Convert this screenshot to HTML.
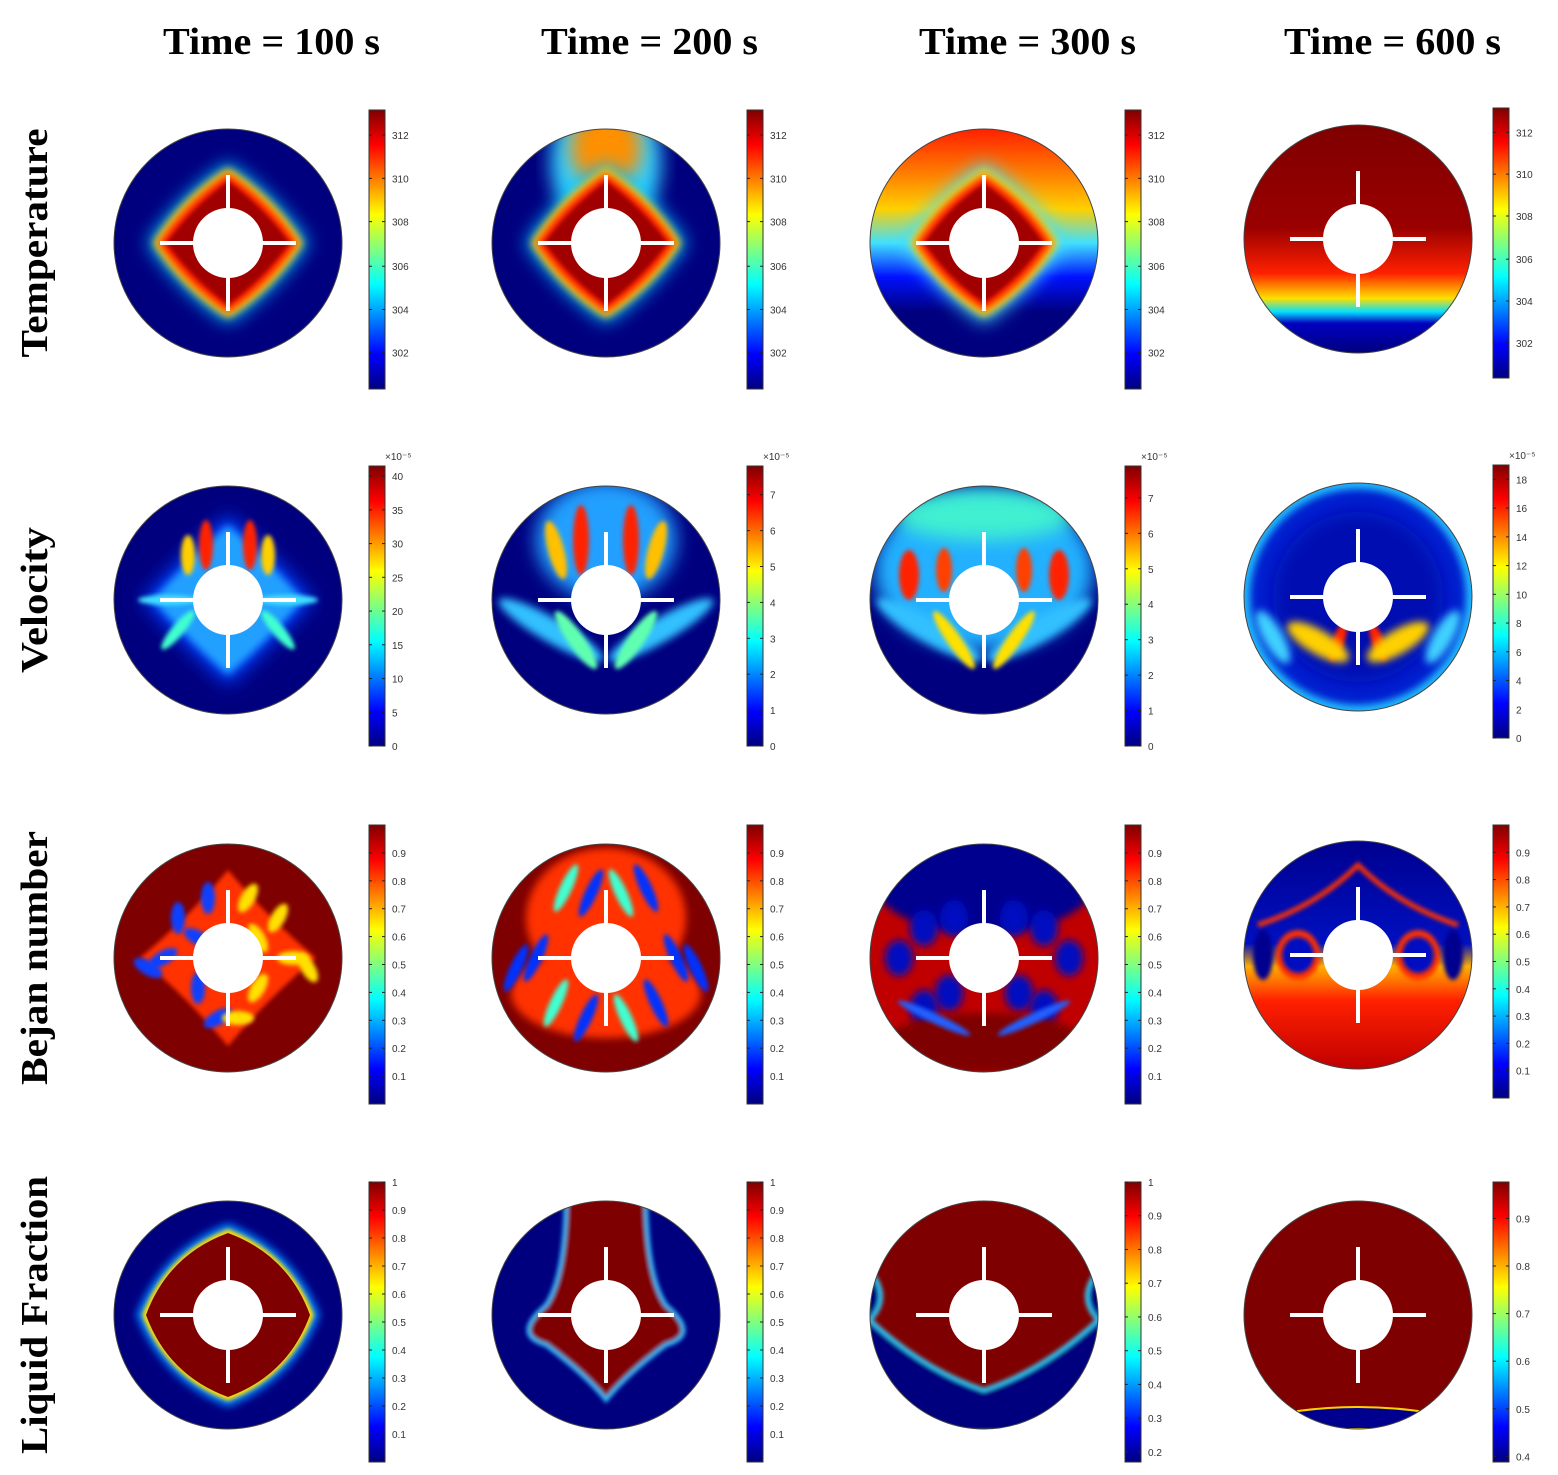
<!DOCTYPE html>
<html><head><meta charset="utf-8">
<style>
html,body{margin:0;padding:0;background:#fff;}
svg{display:block}
.t{font-family:"Liberation Serif",serif;font-weight:bold;font-size:38px;fill:#000}
.k{font-family:"Liberation Sans",sans-serif;font-size:10px;fill:#333}
</style></head>
<body>
<svg id="s" width="1558" height="1475" viewBox="0 0 1558 1475" xmlns="http://www.w3.org/2000/svg">
<defs>
<linearGradient id="jet" x1="0" y1="1" x2="0" y2="0">
<stop offset="0" stop-color="#00007f"/><stop offset="0.125" stop-color="#0000ff"/>
<stop offset="0.375" stop-color="#00ffff"/><stop offset="0.625" stop-color="#ffff00"/>
<stop offset="0.875" stop-color="#ff0000"/><stop offset="1" stop-color="#7f0000"/>
</linearGradient>
<linearGradient id="t4" x1="0" y1="0" x2="0" y2="1">
<stop offset="0" stop-color="#7f0000"/><stop offset="0.45" stop-color="#9a0000"/>
<stop offset="0.65" stop-color="#ff2000"/><stop offset="0.76" stop-color="#ffe000"/>
<stop offset="0.82" stop-color="#00e0ff"/><stop offset="0.87" stop-color="#0000c0"/><stop offset="1" stop-color="#00007f"/>
</linearGradient>
<linearGradient id="t3" x1="0" y1="0" x2="0" y2="1">
<stop offset="0" stop-color="#ff2000"/><stop offset="0.2" stop-color="#ff8000"/>
<stop offset="0.35" stop-color="#ffd000"/><stop offset="0.5" stop-color="#40e0ff"/><stop offset="0.65" stop-color="#0010ff"/><stop offset="0.8" stop-color="#00007f"/>
</linearGradient>
<linearGradient id="b4" x1="0" y1="0" x2="0" y2="1">
<stop offset="0" stop-color="#00008f"/><stop offset="0.45" stop-color="#0010c0"/>
<stop offset="0.55" stop-color="#ffb000"/><stop offset="0.7" stop-color="#ff2000"/><stop offset="1" stop-color="#c00000"/>
</linearGradient>
<filter id="bl" x="-30%" y="-30%" width="160%" height="160%"><feGaussianBlur stdDeviation="9"/></filter>
<filter id="bs" x="-30%" y="-30%" width="160%" height="160%"><feGaussianBlur stdDeviation="4"/></filter>
<filter id="bx" x="-30%" y="-30%" width="160%" height="160%"><feGaussianBlur stdDeviation="2"/></filter>
</defs>
<g id="g"></g>
</svg>
<script>
var cols=[228,606,984,1358], rows=[243,600,958,1315], R=114;
var cbx=[369,747,1125,1493];
var out='';
function T(x,y,s,c,extra){out+='<text x="'+x+'" y="'+y+'" class="'+c+'" '+(extra||'')+'>'+s+'</text>';}
var titles=['Time = 100 s','Time = 200 s','Time = 300 s','Time = 600 s'];
var tx=[163,541,919,1284];
for(var i=0;i<4;i++)T(tx[i],54,titles[i],'t','textLength="217" lengthAdjust="spacingAndGlyphs"');
var rl=['Temperature','Velocity','Bejan number','Liquid Fraction'];
var rlen=[229,146,254,278];
var rc=[243,600,958,1315];
for(var j=0;j<4;j++){var yc=rc[j]+(j==3?0:0);T(47,yc,rl[j],'t','text-anchor="middle" textLength="'+rlen[j]+'" lengthAdjust="spacingAndGlyphs" transform="rotate(-90 47 '+yc+')"');}
var ticks=[
 [['312',0.91],['310',0.755],['308',0.6],['306',0.44],['304',0.285],['302',0.13]],
 null,
 [['0.9',0.9],['0.8',0.8],['0.7',0.7],['0.6',0.6],['0.5',0.5],['0.4',0.4],['0.3',0.3],['0.2',0.2],['0.1',0.1]],
 [['1',1],['0.9',0.9],['0.8',0.8],['0.7',0.7],['0.6',0.6],['0.5',0.5],['0.4',0.4],['0.3',0.3],['0.2',0.2],['0.1',0.1]]
];
var vt=[[0,5,10,15,20,25,30,35,40],[0,1,2,3,4,5,6,7],[0,1,2,3,4,5,6,7],[0,2,4,6,8,10,12,14,16,18]];
var vmax=[41.5,7.8,7.9,19];
var cby=[[110,389],[466,746],[825,1104],[1182,1462]];
for(var j=0;j<4;j++)for(var i=0;i<4;i++){
 var x=cbx[i],y0=cby[j][0],y1=cby[j][1];
 if(i==3&&j==0){y0=108;y1=378;}
 if(i==3&&j==1){y0=465;y1=738;}
 if(i==3&&j==2){y0=825;y1=1098;}
 var h=y1-y0;
 out+='<rect x="'+x+'" y="'+y0+'" width="16" height="'+h+'" fill="url(#jet)" stroke="#333" stroke-width="1"/>';
 var tk=[];
 if(j==1){vt[i].forEach(function(v){tk.push([''+v,v/vmax[i]]);});T(x+16,y0-6,'×10⁻⁵','k','font-size="8"');}
 else if(j==3&&i==3){tk=[['0.9',0.87],['0.8',0.7],['0.7',0.53],['0.6',0.36],['0.5',0.19],['0.4',0.02]];}
 else if(j==3&&i==2){tk=[];for(var v=1;v>=0.15;v-=0.1){var lab=(Math.round(v*10)/10);tk.push([lab==1?'1':lab.toFixed(1),(v-0.17)/0.83]);}}
 else tk=ticks[j];
 tk.forEach(function(t){var yy=y1-t[1]*h;
  out+='<line x1="'+x+'" x2="'+(x+3)+'" y1="'+yy+'" y2="'+yy+'" stroke="#222"/><line x1="'+(x+13)+'" x2="'+(x+16)+'" y1="'+yy+'" y2="'+yy+'" stroke="#222"/>';
  T(x+23,yy+4,t[0],'k');});
}
function star(cx,cy,a,b){
 return 'M'+(cx)+','+(cy-a)+' Q'+(cx+b)+','+(cy-b)+' '+(cx+a)+','+cy+' Q'+(cx+b)+','+(cy+b)+' '+cx+','+(cy+a)+' Q'+(cx-b)+','+(cy+b)+' '+(cx-a)+','+cy+' Q'+(cx-b)+','+(cy-b)+' '+cx+','+(cy-a)+'Z';
}
var cid=0;
function panel(cx,cy,content){
 cid++;
 out+='<clipPath id="c'+cid+'"><circle cx="'+cx+'" cy="'+cy+'" r="'+R+'"/></clipPath>';
 out+='<g clip-path="url(#c'+cid+')">'+content+'</g>';
 out+='<circle cx="'+cx+'" cy="'+cy+'" r="'+R+'" fill="none" stroke="#444" stroke-width="1"/>';
 out+='<circle cx="'+cx+'" cy="'+cy+'" r="35" fill="#fff"/>';
 out+='<rect x="'+(cx-68)+'" y="'+(cy-2)+'" width="136" height="4" fill="#fff"/><rect x="'+(cx-2)+'" y="'+(cy-68)+'" width="4" height="136" fill="#fff"/>';
}
function bg(cx,cy,c){return '<rect x="'+(cx-R)+'" y="'+(cy-R)+'" width="'+2*R+'" height="'+2*R+'" fill="'+c+'"/>';}
function E(cx,cy,rx,ry,c,f,rot){return '<ellipse cx="'+cx+'" cy="'+cy+'" rx="'+rx+'" ry="'+ry+'" fill="'+c+'"'+(f?' filter="url(#'+f+')"':'')+(rot?' transform="rotate('+rot+' '+cx+' '+cy+')"':'')+'/>';}
function P(d,c,f){return '<path d="'+d+'" fill="'+c+'"'+(f?' filter="url(#'+f+')"':'')+'/>';}
(function(){var cx=cols[0],cy=rows[0];
 panel(cx,cy,bg(cx,cy,'#00007f')+P(star(cx,cy,80,48),'#00c0ff','bl')+P(star(cx,cy,75,46),'#ffe000','bs')+P(star(cx,cy,70,42),'#ff2000','bs')+P(star(cx,cy,62,36),'#a00000','bx'));
 cx=cols[1];cy=rows[0];
 panel(cx,cy,bg(cx,cy,'#00007f')+E(cx-30,cy-80,25,50,'#30d0ff','bl')+E(cx+30,cy-80,25,50,'#30d0ff','bl')+E(cx,cy-95,35,40,'#ff9000','bl')+P(star(cx,cy,80,48),'#00c0ff','bl')+P(star(cx,cy,75,46),'#ffe000','bs')+P(star(cx,cy,70,42),'#ff2000','bs')+P(star(cx,cy,62,36),'#a00000','bx'));
 cx=cols[2];cy=rows[0];
 panel(cx,cy,'<rect x="'+(cx-R)+'" y="'+(cy-R)+'" width="'+2*R+'" height="'+2*R+'" fill="url(#t3)"/>'+P(star(cx,cy,80,48),'#40e0ff','bl')+P(star(cx,cy,74,46),'#ffe000','bs')+P(star(cx,cy,68,42),'#ff2000','bs')+P(star(cx,cy,60,36),'#a00000','bx'));
 cx=cols[3];cy=rows[0]-4;
 panel(cx,cy,'<rect x="'+(cx-R)+'" y="'+(cy-R)+'" width="'+2*R+'" height="'+2*R+'" fill="url(#t4)"/>');
})();
(function(){var cx=cols[0],cy=rows[1],s='';
 s=bg(cx,cy,'#00007f')+P(star(cx,cy,85,45),'#0040ff','bl')+P(star(cx,cy,75,40),'#20a0ff','bs');
 s+=E(cx-22,cy-55,7,25,'#ff2000','bx')+E(cx+22,cy-55,7,25,'#ff2000','bx')+E(cx-40,cy-45,7,20,'#ffd000','bx')+E(cx+40,cy-45,7,20,'#ffd000','bx')+E(cx-50,cy+30,6,25,'#40ffd0','bx',40)+E(cx+50,cy+30,6,25,'#40ffd0','bx',-40)+E(cx-60,cy,30,5,'#40e0ff','bx')+E(cx+60,cy,30,5,'#40e0ff','bx');
 panel(cx,cy,s);
 cx=cols[1];s=bg(cx,cy,'#00007f')+E(cx,cy-60,70,60,'#20a0ff','bl')+E(cx-25,cy-60,8,35,'#ff2000','bx')+E(cx+25,cy-60,8,35,'#ff2000','bx')+E(cx-50,cy-50,8,30,'#ffc000','bx',-15)+E(cx+50,cy-50,8,30,'#ffc000','bx',15)+E(cx-55,cy+30,60,12,'#30c0ff','bs',30)+E(cx+55,cy+30,60,12,'#30c0ff','bs',-30)+E(cx-30,cy+40,35,8,'#60ffb0','bx',55)+E(cx+30,cy+40,35,8,'#60ffb0','bx',-55);
 panel(cx,cy,s);
 cx=cols[2];s=bg(cx,cy,'#00007f')+E(cx,cy-30,110,80,'#20b0ff','bl')+E(cx,cy-85,90,25,'#40f0d0','bl')+E(cx-75,cy-25,10,25,'#ff2000','bx')+E(cx+75,cy-25,10,25,'#ff2000','bx')+E(cx-40,cy-30,8,22,'#ff4000','bx')+E(cx+40,cy-30,8,22,'#ff4000','bx')+E(cx-55,cy+30,60,12,'#30c0ff','bs',30)+E(cx+55,cy+30,60,12,'#30c0ff','bs',-30)+E(cx-30,cy+40,35,7,'#ffe000','bx',55)+E(cx+30,cy+40,35,7,'#ffe000','bx',-55);
 panel(cx,cy,s);
 cx=cols[3];cy=rows[1]-3;s=bg(cx,cy,'#0020d0')+'<circle cx="'+cx+'" cy="'+cy+'" r="'+R+'" fill="none" stroke="#20c0ff" stroke-width="12" filter="url(#bs)"/>'+E(cx,cy,85,85,'#0010b0','bl')+E(cx-20,cy+45,6,20,'#ff2000','bx',20)+E(cx+20,cy+45,6,20,'#ff2000','bx',-20)+E(cx-40,cy+45,35,12,'#ffd000','bs',30)+E(cx+40,cy+45,35,12,'#ffd000','bs',-30)+E(cx-85,cy+40,30,10,'#40d0ff','bs',60)+E(cx+85,cy+40,30,10,'#40d0ff','bs',-60);
 panel(cx,cy,s);
})();
(function(){var cx=cols[0],cy=rows[2],s;
 s=bg(cx,cy,'#7f0000')+P(star(cx,cy,88,40),'#ff3000','bx');
 [[-20,-60],[20,-60],[-65,0],[65,0],[-30,-20],[30,-20],[-30,30],[30,30],[-10,60],[10,60],[-80,10],[80,10],[-50,-40],[50,-40]].forEach(function(p,k){s+=E(cx+p[0],cy+p[1],7,16,k%2?'#ffe000':'#1040ff','bx',k*30);});
 panel(cx,cy,s);
 cx=cols[1];s=bg(cx,cy,'#7f0000')+E(cx,cy-40,80,70,'#ff3000','bs')+E(cx,cy+35,95,45,'#ff3000','bs');
 [[-40,-70],[40,-70],[-15,-65],[15,-65],[-70,0],[70,0],[-50,45],[50,45],[-20,60],[20,60],[-90,10],[90,10]].forEach(function(p,k){s+=E(cx+p[0],cy+p[1],6,26,k%3?'#0030ff':'#40ffd0','bx',p[0]>0?-25:25);});
 panel(cx,cy,s);
 cx=cols[2];s=bg(cx,cy,'#c00000')+E(cx,cy-75,110,50,'#00008f','bs');
 [[-60,-30],[60,-30],[-85,0],[85,0],[-35,35],[35,35],[-60,50],[60,50],[-30,-40],[30,-40]].forEach(function(p,k){s+=E(cx+p[0],cy+p[1],14,18,'#0010c0','bs');});
 s+=E(cx,cy+85,100,30,'#7f0000','bs')+E(cx-50,cy+60,40,5,'#2060ff','bx',25)+E(cx+50,cy+60,40,5,'#2060ff','bx',-25);
 panel(cx,cy,s);
 cx=cols[3];cy=rows[2]-3;s='<rect x="'+(cx-R)+'" y="'+(cy-R)+'" width="'+2*R+'" height="'+2*R+'" fill="url(#b4)"/>'+E(cx-60,cy,22,25,'#ff3000','bx')+E(cx+60,cy,22,25,'#ff3000','bx')+E(cx-60,cy,16,18,'#0010c0','bx')+E(cx+60,cy,16,18,'#0010c0','bx')+E(cx-95,cy,10,25,'#00008f','bx')+E(cx+95,cy,10,25,'#00008f','bx');
 s+='<path d="M'+(cx-100)+','+(cy-30)+' Q'+(cx-40)+','+(cy-50)+' '+cx+','+(cy-90)+' Q'+(cx+40)+','+(cy-50)+' '+(cx+100)+','+(cy-30)+'" fill="none" stroke="#ff3000" stroke-width="5" filter="url(#bx)"/>';
 panel(cx,cy,s);
})();
(function(){var cx=cols[0],cy=rows[3],s;
 s=bg(cx,cy,'#00007f')+P(star(cx,cy,92,66),'#0080ff','bs')+P(star(cx,cy,86,62),'#ffe000','bx')+P(star(cx,cy,82,60),'#7f0000','');
 panel(cx,cy,s);
 cx=cols[1];s=bg(cx,cy,'#00007f')+'<path d="M'+(cx-40)+','+(cy-R-10)+' L'+(cx+40)+','+(cy-R-10)+' Q'+(cx+40)+','+(cy-40)+' '+(cx+60)+','+(cy-10)+' Q'+(cx+95)+','+(cy+20)+' '+(cx+60)+','+(cy+30)+' Q'+(cx+20)+','+(cy+60)+' '+cx+','+(cy+85)+' Q'+(cx-20)+','+(cy+60)+' '+(cx-60)+','+(cy+30)+' Q'+(cx-95)+','+(cy+20)+' '+(cx-60)+','+(cy-10)+' Q'+(cx-40)+','+(cy-40)+' '+(cx-40)+','+(cy-R-10)+'Z" fill="#7f0000" stroke="#30c0ff" stroke-width="4" filter="url(#bx)"/>';
 panel(cx,cy,s);
 cx=cols[2];s=bg(cx,cy,'#7f0000')+'<path d="M'+(cx-R-5)+','+(cy-50)+' Q'+(cx-90)+','+(cy-20)+' '+(cx-R)+','+(cy+5)+' Q'+(cx-60)+','+(cy+55)+' '+cx+','+(cy+75)+' Q'+(cx+60)+','+(cy+55)+' '+(cx+R)+','+(cy+5)+' Q'+(cx+90)+','+(cy-20)+' '+(cx+R+5)+','+(cy-50)+' L'+(cx+R+5)+','+(cy+R+5)+' L'+(cx-R-5)+','+(cy+R+5)+'Z" fill="#00007f" stroke="#30d0ff" stroke-width="4" filter="url(#bx)"/>';
 panel(cx,cy,s);
 cx=cols[3];s=bg(cx,cy,'#7f0000')+'<path d="M'+(cx-60)+','+(cy+96)+' Q'+cx+','+(cy+88)+' '+(cx+60)+','+(cy+96)+' L'+(cx+60)+','+(cy+R)+' L'+(cx-60)+','+(cy+R)+'Z" fill="#00008f" stroke="#ffd000" stroke-width="2"/>';
 panel(cx,cy,s);
})();
document.getElementById('g').innerHTML=out;
</script>
</body></html>
